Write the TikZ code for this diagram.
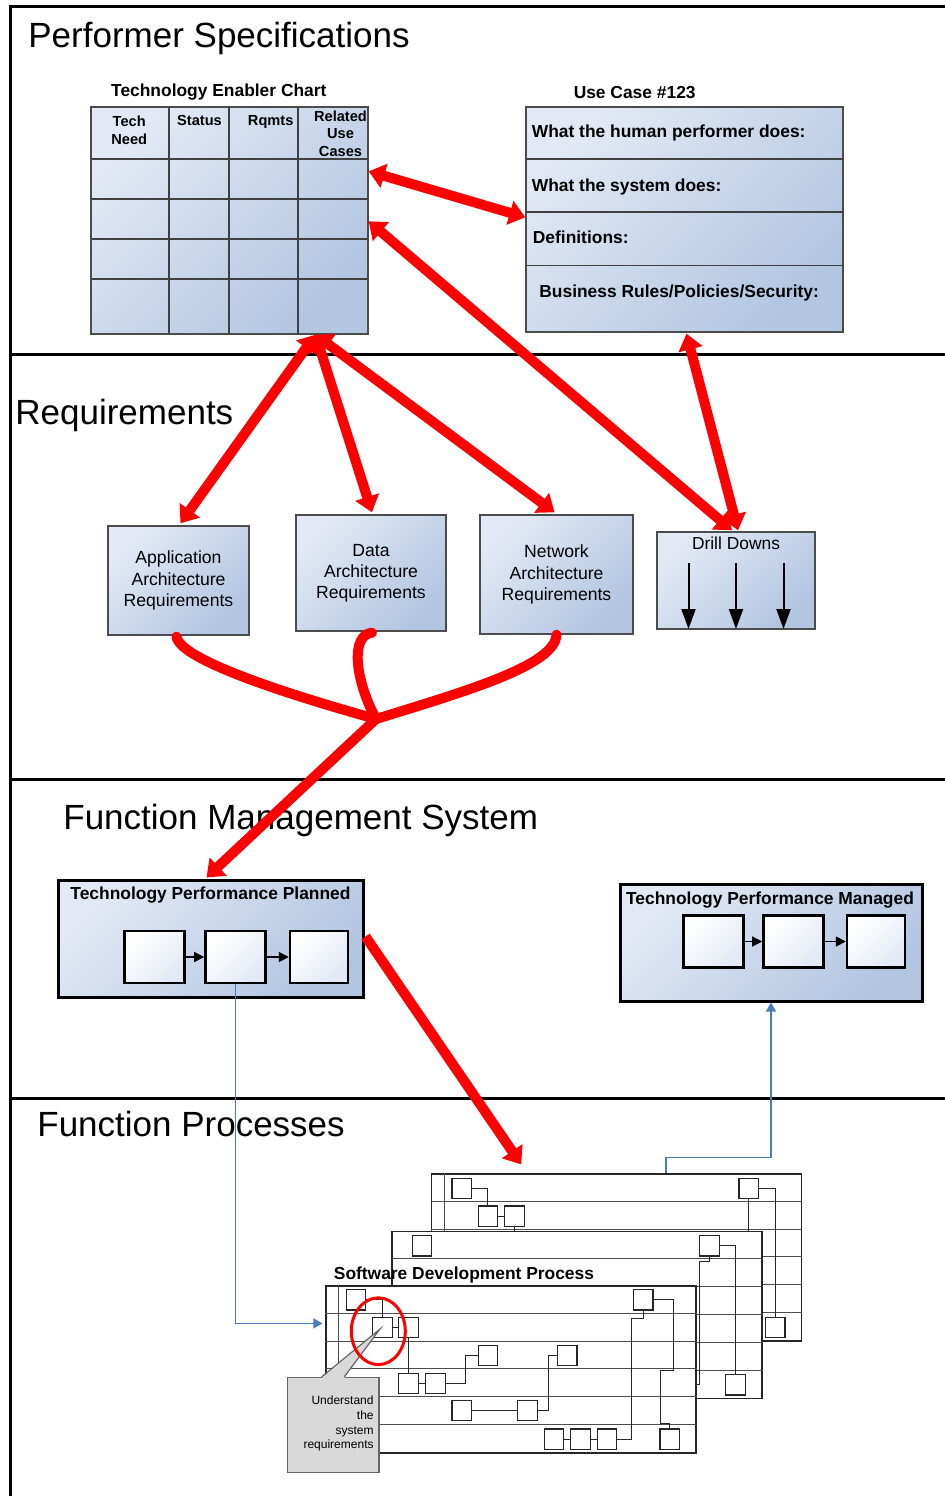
\documentclass[tikz,border=0pt]{standalone}
\usepackage{fontspec}
\setmainfont{Liberation Sans}
\usepackage{xcolor}
\usepackage{tikz}
\usetikzlibrary{arrows.meta, positioning, calc}

\definecolor{boxlight}{HTML}{E2E9F5}
\definecolor{boxdark}{HTML}{B2C5E1}
\definecolor{linkblue}{HTML}{4A7EBB}
\definecolor{notegray}{HTML}{D9D9D9}

\begin{document}
\begin{tikzpicture}[x=0.5pt, y=-0.5pt,
  frame/.style={line width=1.5pt},
  sectiontitle/.style={font=\fontsize{17.5}{21}\selectfont, anchor=base west, inner sep=0pt},
  boldlabel/.style={font=\bfseries\fontsize{8.7}{10.5}\selectfont, inner sep=0pt},
  headlabel/.style={font=\bfseries\fontsize{7.3}{8.8}\selectfont, inner sep=0pt, align=center},
  reqlabel/.style={font=\fontsize{8.8}{10.6}\selectfont, align=center},
  notelabel/.style={font=\fontsize{6}{7.3}\selectfont, inner sep=0pt, align=right},
  bluebox/.style={draw=black!70, line width=0.7pt, top color=boxlight, bottom color=boxdark, shading angle=45, inner sep=0pt},
  planbox/.style={draw=black, line width=1.5pt, top color=boxlight, bottom color=boxdark, shading angle=45, inner sep=0pt, minimum height=58.5pt},
  stepbox/.style={draw=black, line width=1.3pt, top color=white, bottom color=boxlight, shading angle=45, inner sep=0pt, minimum width=30pt, minimum height=26pt},
  steparrow/.style={line width=0.8pt, -{Triangle[length=5pt,width=5pt]}},
  gridline/.style={draw=black!75, line width=0.7pt},
  drillarrow/.style={line width=1pt, -{Triangle[length=10pt,width=7pt]}},
  sheet/.style={draw=black!85, line width=0.6pt, fill=white, minimum width=185pt, minimum height=83.5pt, inner sep=0pt},
  procbox/.style={draw=black!85, line width=0.6pt, fill=white, minimum width=9.8pt, minimum height=10.1pt, inner sep=0pt},
  rowline/.style={draw=black!70, line width=0.5pt},
  wire/.style={draw=black!85, line width=0.5pt},
  bluelink/.style={draw=linkblue, line width=0.8pt, -{Triangle[length=4.5pt,width=5pt]}},
  redline/.style={red, line width=5pt},
  bigarrow/.style={redline, {Triangle[length=8pt,width=12pt]}-{Triangle[length=8pt,width=12pt]}}]

  \useasboundingbox (0,0) rectangle (945,1496);

  % Frame and sections
  \draw[frame] (10.5,1496) -- (10.5,6.5) -- (945,6.5);
  \foreach \sy in {354.5,779.5,1098}
    \draw[frame] (10.5,\sy) -- (945,\sy);
  \node (perf) [sectiontitle] at (28,47) {Performer Specifications};
  \node (reqs) [sectiontitle] at (15,424) {Requirements};
  \node (fms) [sectiontitle] at (63,829.5) {Function Management System};
  \node (fproc) [sectiontitle] at (37,1136) {Function Processes};

  % Technology enabler chart
  \node (tectitle) [boldlabel, anchor=base] at (218.8,96.7) {Technology Enabler Chart};
  \node (tec) [bluebox, minimum width=138.5pt, minimum height=113.5pt] at (229.5,220.5) {};
  \foreach \gx in {169,229,298}
    \draw[gridline] (\gx,107) -- (\gx,334);
  \foreach \gy in {159,199,239,279}
    \draw[gridline] (91,\gy) -- (368,\gy);
  \node (hneed) [headlabel] at (129.2,130.4) {Tech\\Need};
  \node (hstatus) [headlabel, anchor=base] at (199.5,125) {Status};
  \node (hrqmts) [headlabel, anchor=base] at (270.7,125) {Rqmts};
  \node (hcases) [headlabel] at (340.5,133.5) {Related\\Use\\Cases};

  % Use case
  \node (uctitle) [boldlabel, anchor=base] at (634.7,98.3) {Use Case \#123};
  \node (uc) [bluebox, minimum width=158.5pt, minimum height=112.5pt] at (684.5,219.5) {};
  \foreach \gy in {159,212,265.5}
    \draw[gridline] (526,\gy) -- (843,\gy);
  \node (human) [boldlabel, anchor=base west] at (531.5,137.7) {What the human performer does:};
  \node (system) [boldlabel, anchor=base west] at (531.5,191.5) {What the system does:};
  \node (defs) [boldlabel, anchor=base west] at (532.5,243) {Definitions:};
  \node (rules) [boldlabel, anchor=base west] at (539,297.7) {Business Rules/Policies/Security:};

  % Requirements
  \node (app) [bluebox, reqlabel, minimum width=70.5pt, minimum height=54.5pt] at (178.5,580.5) {Application\\Architecture\\Requirements};
  \node (data) [bluebox, reqlabel, minimum width=75pt, minimum height=58pt] at (371,573) {Data\\Architecture\\Requirements};
  \node (net) [bluebox, reqlabel, minimum width=76.5pt, minimum height=59.5pt] at (556.5,574.5) {Network\\Architecture\\Requirements};
  \node (drill) [bluebox, minimum width=79pt, minimum height=48.5pt] at (736,580.5) {};
  \node (drilltitle) [font=\fontsize{8.7}{10.5}\selectfont, anchor=base, inner sep=0pt] at (736,549.3) {Drill Downs};
  \foreach \dx in {688.5,736,783.5}
    \draw[drillarrow] (\dx,563) -- (\dx,629);

  % Function management system
  \node (tpp) [planbox, minimum width=152.5pt] at (210.5,938.5) {};
  \node (tpptitle) [boldlabel, anchor=base] at (210.5,899.3) {Technology Performance Planned};
  \node (p1) [stepbox] at (154.5,957) {};
  \node (p2) [stepbox, right=9.2pt of p1] {};
  \node (p3) [stepbox, right=11pt of p2, minimum width=29pt] {};
  \draw[steparrow] (p1) -- (p2);
  \draw[steparrow] (p2) -- (p3);

  \node (tpm) [planbox, minimum width=151pt] at (771,942.5) {};
  \node (tpmtitle) [boldlabel, anchor=base] at (770,904) {Technology Performance Managed};
  \node (m1) [stepbox] at (713.3,941.5) {};
  \node (m2) [stepbox, right=8.8pt of m1] {};
  \node (m3) [stepbox, right=10.5pt of m2, minimum width=29pt] {};
  \draw[steparrow] (m1) -- (m2);
  \draw[steparrow] (m2) -- (m3);

  % Process sheets, back to front
  \node (sheetA) [sheet] at (616.8,1257.5) {};
  \foreach \k in {1,...,5}
    \draw[rowline] ($(sheetA.north west)+(0,27.83*\k)$) -- ($(sheetA.north east)+(0,27.83*\k)$);
  \draw[rowline] ($(sheetA.north west)+(12.9,0)$) -- ($(sheetA.south west)+(12.9,0)$);
  \node (a1) [procbox] at (461.7,1188.3) {};
  \node (a2) [procbox] at (487.9,1216.1) {};
  \node (a3) [procbox] at (514.6,1216.1) {};
  \node (a4) [procbox] at (748.7,1188.3) {};
  \node (a5) [procbox] at (775.2,1327.5) {};
  \draw[wire] (a1.east) -| (a2.north);
  \draw[wire] (a2) -- (a3);
  \draw[wire] (a3.south) -- ++(0,5);
  \draw[wire] (a4.east) -| (a5.north);
  \draw[wire] (a4.south) -- ++(0,32);

  \node (sheetB) [sheet] at (577,1315) {};
  \foreach \k in {1,...,5}
    \draw[rowline] ($(sheetB.north west)+(0,27.83*\k)$) -- ($(sheetB.north east)+(0,27.83*\k)$);
  \node (b1) [procbox] at (422,1245.9) {};
  \node (b2) [procbox] at (709.3,1245.9) {};
  \node (b3) [procbox] at (735.5,1384.9) {};
  \draw[wire] (b2.east) -| (b3.north);
  \draw[wire] (b2.south) -- ++(0,4.7) -- ++(-9.9,0) -- ++(0,123.5) -- ++(-2,0);
  \node (sdp) [boldlabel, anchor=base west] at (333.5,1279) {Software Development Process};

  \node (sheetC) [sheet] at (511,1369.5) {};
  \foreach \k in {1,...,5}
    \draw[rowline] ($(sheetC.north west)+(0,27.83*\k)$) -- ($(sheetC.north east)+(0,27.83*\k)$);
  \draw[rowline] ($(sheetC.north west)+(13.5,0)$) -- ($(sheetC.south west)+(13.5,0)$);
  \node (c1) [procbox] at (356,1299.9) {};
  \node (c2) [procbox] at (382.4,1327.5) {};
  \node (c3) [procbox] at (408.6,1327.5) {};
  \node (c4) [procbox] at (408.6,1383.5) {};
  \node (c5) [procbox] at (435.3,1383.5) {};
  \node (c6) [procbox] at (488,1355.3) {};
  \node (c7) [procbox] at (567.2,1355.3) {};
  \node (c8) [procbox] at (461.7,1410.7) {};
  \node (c9) [procbox] at (527.5,1410.7) {};
  \node (c10) [procbox] at (553.9,1439) {};
  \node (c11) [procbox] at (580.5,1439) {};
  \node (c12) [procbox] at (606.9,1439) {};
  \node (c13) [procbox] at (643.2,1299.9) {};
  \node (c14) [procbox] at (669.7,1439) {};
  \draw[wire] (c1.east) -| (c2.north);
  \draw[wire] (c2) -- (c3);
  \draw[wire] (c3.south) -- (c4.north);
  \draw[wire] (c4) -- (c5);
  \draw[wire] (c5.east) -- ++(19.6,0) |- (c6.west);
  \draw[wire] (c8) -- (c9);
  \draw[wire] (c9.east) -- ++(10.2,0) |- (c7.west);
  \draw[wire] (c10) -- (c11);
  \draw[wire] (c11) -- (c12);
  \draw[wire] (c12.east) -- ++(14.2,0) |- ($(c13.south)+(0,8)$) -- (c13.south);
  \draw[wire] (c13.east) -- ++(20,0) -- ++(0,70.8) -- ++(-13.2,0) -- ++(0,53) -| (c14.north);

  % Callout
  \node (note) [draw=black!60, line width=0.6pt, fill=notegray, minimum width=45.9pt, minimum height=47.6pt, inner sep=0pt] at (333.1,1425.1) {};
  \coordinate (tipc) at (380,1329);
  \fill[notegray] ($(note.north west)+(35,1.2)$) -- (tipc) -- ($(note.north west)+(57.6,1.2)$) -- cycle;
  \draw[draw=black!60, line width=0.6pt] ($(note.north west)+(35,0)$) -- (tipc) -- ($(note.north west)+(57.6,0)$);
  \node (notetext) [notelabel, anchor=east] at (374,1423.7) {Understand\\the\\system\\requirements};
  \draw[red, line width=1.5pt] (378.3,1331.2) ellipse [x radius=13.5pt, y radius=16.7pt];

  % Blue links
  \coordinate (pin) at ($(sheetC.north west)+(-3,38)$);
  \draw[bluelink] (p2.south) |- (pin);
  \draw[bluelink] ($(sheetA.north west)+(235,0)$) -- ++(0,-16) -| (tpm.south);

  % Red links
  \draw[bigarrow] ($(tec.north east)+(0,65)$) -- ($(uc.north west)+(0,111)$);
  \draw[bigarrow] ($(tec.north east)+(0,115)$) -- ($(drill.north)+(-4,-1)$);
  \draw[bigarrow] ($(uc.south)+(2,1)$) -- ($(drill.north)+(2,-1)$);
  \foreach \tgt/\dx in {app/2, data/1, net/-2}
    \draw[bigarrow] ($(tec.south)+(86,0)$) -- ($(\tgt.north)+(\dx,-2)$);
  \coordinate (merge) at (376,719);
  \draw[redline, line cap=round] ($(app.south)+(-2,1)$) .. controls (180,660) and (290,695) .. (merge);
  \draw[redline, line cap=round] ($(data.south)+(1,1)$) .. controls (350,635) and (355,680) .. (merge);
  \draw[redline, line cap=round] (net.south) .. controls (555,665) and (470,690) .. (merge);
  \draw[redline, -{Triangle[length=8pt,width=12pt]}] (merge) -- ($(tpp.north)+(-4,-1)$);
  \draw[redline, -{Triangle[length=8pt,width=12pt]}] ($(tpp.east)+(1,-2)$) -- ($(sheetA.north west)+(90,-9)$);
\end{tikzpicture}
\end{document}
